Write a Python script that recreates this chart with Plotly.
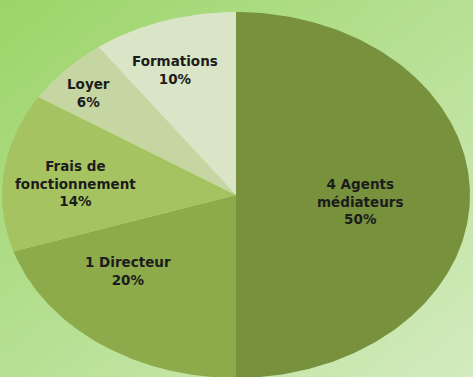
import base64
import numpy as np
import plotly.graph_objects as go

# ---- data ----
categories = ["4 Agents<br>médiateurs", "1 Directeur", "Frais de<br>fonctionnement", "Loyer", "Formations"]
values = [50, 20, 14, 6, 10]

# ---- style ----
colors = ["#77913d", "#8dab4b", "#a5c461", "#c5d6a2", "#d9e5c6"]
label_r = [0.535, 0.62, 0.69, 0.84, 0.73]
label_shift = [-4, -12, 2.2, 1.8, 2.9]

W, H = 473, 377
cx_px, cy_px, rx_px, ry_px = 236, 195, 234, 183
x_range = [-cx_px / rx_px, (W - cx_px) / rx_px]
y_range = [-(H - cy_px) / ry_px, cy_px / ry_px]

fig = go.Figure()

total = float(sum(values))
start = 90.0  # degrees, top, going clockwise
for i, (cat, v) in enumerate(zip(categories, values)):
    sweep = 360.0 * v / total
    a0, a1 = start, start - sweep
    th = np.radians(np.linspace(a0, a1, 200))
    xs = np.concatenate([[0], np.cos(th), [0]])
    ys = np.concatenate([[0], np.sin(th), [0]])
    fig.add_trace(go.Scatter(
        x=xs, y=ys, mode="lines", fill="toself",
        fillcolor=colors[i], line=dict(width=0, color=colors[i]),
        hoverinfo="text", hovertext=f"{cat.replace('<br>', ' ')}: {v}%",
        showlegend=False,
    ))
    mid = np.radians((a0 + a1) / 2 + label_shift[i])
    fig.add_annotation(
        x=label_r[i] * np.cos(mid), y=label_r[i] * np.sin(mid),
        text=f"<b>{cat}<br>{v}%</b>", showarrow=False,
        font=dict(family="DejaVu Sans", size=13.5, color="#1c1c1c"),
        align="center",
    )
    start = a1

svg = f'''<svg xmlns="http://www.w3.org/2000/svg" width="{W}" height="{H}">
<defs><linearGradient id="g" x1="0" y1="0" x2="1" y2="1">
<stop offset="0" stop-color="#9bd568"/>
<stop offset="0.5" stop-color="#b7e093"/>
<stop offset="1" stop-color="#d3ebbf"/>
</linearGradient></defs>
<rect width="{W}" height="{H}" fill="url(#g)"/></svg>'''
src = "data:image/svg+xml;base64," + base64.b64encode(svg.encode()).decode()

fig.update_layout(
    width=W, height=H, autosize=False,
    margin=dict(l=0, r=0, t=0, b=0),
    paper_bgcolor="#b7e093", plot_bgcolor="rgba(0,0,0,0)",
    xaxis=dict(range=x_range, visible=False, fixedrange=True),
    yaxis=dict(range=y_range, visible=False, fixedrange=True),
    images=[dict(source=src, xref="paper", yref="paper", x=0, y=1,
                 sizex=1, sizey=1, sizing="stretch", layer="below")],
)

fig.write_html("out.html")
